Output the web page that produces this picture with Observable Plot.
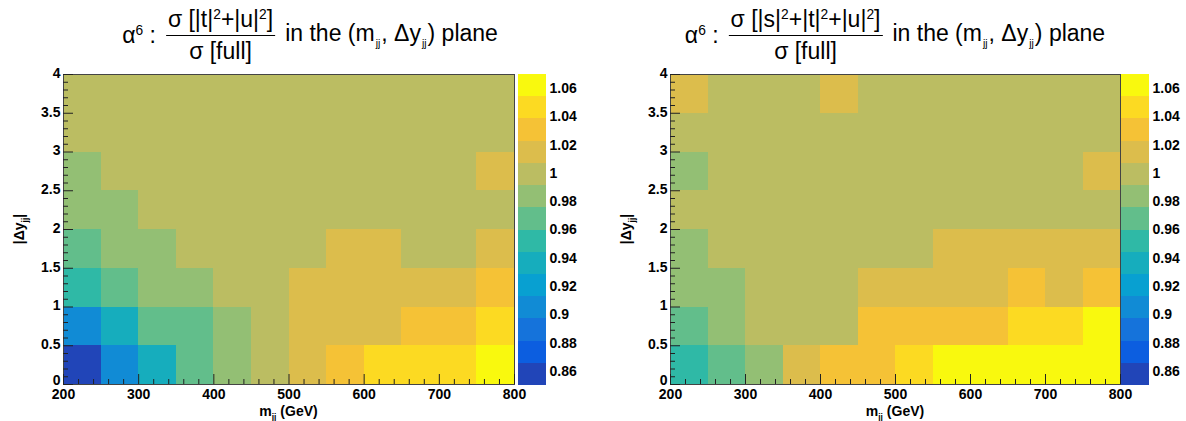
<!DOCTYPE html>
<html>
<head>
<meta charset="utf-8">
<script src="https://cdn.jsdelivr.net/npm/d3@7"></script>
<script src="https://cdn.jsdelivr.net/npm/@observablehq/plot@0.6"></script>
<style>
  html, body { margin: 0; padding: 0; background: #fff; }
  #root { position: relative; width: 1186px; height: 421px; overflow: hidden; font-family: "Liberation Sans", Arial, sans-serif; }
  .abs { position: absolute; }
  .title { position: absolute; top: 8px; font-size: 23px; display: flex; align-items: center; white-space: nowrap; transform: translateX(-50%); color: #000; line-height: 1; }
  .frac { display: inline-flex; flex-direction: column; align-items: center; margin: 0 10px 0 10px; }
  .num { padding: 0 2px 4px 2px; border-bottom: 1.5px solid #000; }
  .den { padding-top: 4px; }
  .title sup { font-size: 0.6em; vertical-align: 0.55em; }
  .title .ssub { font-size: 0.45em; vertical-align: -0.6em; margin: 0 1px; }
  .xt { position: absolute; font-weight: bold; font-size: 14px; line-height: 1; white-space: nowrap; transform: translateX(-50%); }
  .xt .ssub, .yt .ssub { font-size: 0.6em; vertical-align: -0.45em; }
  .yt { position: absolute; font-weight: bold; font-size: 14px; line-height: 1; white-space: nowrap; transform: translate(-50%, -50%) rotate(-90deg); }
</style>
</head>
<body>
<div id="root"></div>
<script>
// ---- data ----
const xEdges = [200, 250, 300, 350, 400, 450, 500, 550, 600, 650, 700, 750, 800];
const yEdges = [0, 0.5, 1, 1.5, 2, 2.5, 3, 3.5, 4];
const xTicks = [200, 300, 400, 500, 600, 700, 800];
const yTicks = [0, 0.5, 1, 1.5, 2, 2.5, 3, 3.5, 4];
const zTicks = [0.86, 0.88, 0.9, 0.92, 0.94, 0.96, 0.98, 1, 1.02, 1.04, 1.06];
const zRange = [0.85, 1.07];

// rows from |dy| = 0-0.5 (first) up to 3.5-4 (last), columns m_jj 200..800
const ratioTU = [
  [0.858, 0.905, 0.937, 0.968, 0.984, 0.999, 1.015, 1.031, 1.046, 1.046, 1.046, 1.062],
  [0.905, 0.937, 0.968, 0.968, 0.984, 0.999, 1.015, 1.015, 1.015, 1.031, 1.031, 1.046],
  [0.952, 0.968, 0.984, 0.984, 0.999, 0.999, 1.015, 1.015, 1.015, 1.015, 1.015, 1.031],
  [0.968, 0.984, 0.984, 0.999, 0.999, 0.999, 0.999, 1.015, 1.015, 0.999, 0.999, 1.015],
  [0.984, 0.984, 0.999, 0.999, 0.999, 0.999, 0.999, 0.999, 0.999, 0.999, 0.999, 0.999],
  [0.984, 0.999, 0.999, 0.999, 0.999, 0.999, 0.999, 0.999, 0.999, 0.999, 0.999, 1.015],
  [0.999, 0.999, 0.999, 0.999, 0.999, 0.999, 0.999, 0.999, 0.999, 0.999, 0.999, 0.999],
  [0.999, 0.999, 0.999, 0.999, 0.999, 0.999, 0.999, 0.999, 0.999, 0.999, 0.999, 0.999]
];
const ratioSTU = [
  [0.952, 0.968, 0.984, 1.015, 1.031, 1.031, 1.046, 1.062, 1.062, 1.062, 1.062, 1.062],
  [0.968, 0.984, 0.999, 0.999, 0.999, 1.031, 1.031, 1.031, 1.031, 1.046, 1.046, 1.062],
  [0.984, 0.984, 0.999, 0.999, 0.999, 1.015, 1.015, 1.015, 1.015, 1.031, 1.015, 1.031],
  [0.984, 0.999, 0.999, 0.999, 0.999, 0.999, 0.999, 1.015, 1.015, 1.015, 1.015, 1.015],
  [0.999, 0.999, 0.999, 0.999, 0.999, 0.999, 0.999, 0.999, 0.999, 0.999, 0.999, 0.999],
  [0.984, 0.999, 0.999, 0.999, 0.999, 0.999, 0.999, 0.999, 0.999, 0.999, 0.999, 1.015],
  [0.999, 0.999, 0.999, 0.999, 0.999, 0.999, 0.999, 0.999, 0.999, 0.999, 0.999, 0.999],
  [1.015, 0.999, 0.999, 0.999, 1.015, 0.999, 0.999, 0.999, 0.999, 0.999, 0.999, 0.999]
];

// palette (14 discrete bands from 0.85 to 1.07)
const palette = ["#2145b8", "#0c5ee0", "#1573db", "#118bd5", "#08a0d1", "#16adbd", "#2fb9a6",
                 "#62be8b", "#93bf74", "#bbbd62", "#dcbd4c", "#f5c236", "#fcda22", "#f9f90e"];
const nBands = palette.length;
const bandEdges = d3.range(nBands + 1).map(k => zRange[0] + k * (zRange[1] - zRange[0]) / nBands);
const thresholds = bandEdges.slice(1, -1);

function cellsOf(grid) {
  const out = [];
  grid.forEach((row, j) => row.forEach((v, i) => out.push({
    x1: xEdges[i], x2: xEdges[i + 1], y1: yEdges[j], y2: yEdges[j + 1], v
  })));
  return out;
}

const root = document.getElementById("root");
const FONT = "'Liberation Sans', Arial, sans-serif";

function panel(grid, left, mL, plotW, legendLeft, titleHTML, titleCenter) {
  const W = mL + plotW + 40, H = 361, mT = 14, mB = 37;
  const plotH = H - mT - mB;
  const xMinor = d3.range(200, 801, 20).filter(d => d % 100 !== 0);
  const yMinor = d3.range(0, 4.001, 0.1).map(d => +d.toFixed(1)).filter(d => Math.abs(d * 2 - Math.round(d * 2)) > 1e-6);
  const chart = Plot.plot({
    width: W, height: H,
    marginLeft: mL, marginRight: W - mL - plotW, marginTop: mT, marginBottom: mB,
    style: { fontFamily: FONT, fontSize: "14px", fontWeight: "bold", background: "transparent", overflow: "visible" },
    x: { domain: [200, 800] },
    y: { domain: [0, 4] },
    color: { type: "threshold", domain: thresholds, range: palette },
    marks: [
      Plot.rect(cellsOf(grid), { x1: "x1", x2: "x2", y1: "y1", y2: "y2", fill: "v", shapeRendering: "crispEdges" }),
      Plot.frame({ stroke: "#444", strokeWidth: 1 }),
      Plot.tickX(xTicks, { x: d => d, stroke: "#222", insetTop: plotH - 10 }),
      Plot.tickX(xMinor, { x: d => d, stroke: "#222", insetTop: plotH - 5 }),
      Plot.tickY(yTicks, { y: d => d, stroke: "#222", insetRight: plotW - 10 }),
      Plot.tickY(yMinor, { y: d => d, stroke: "#222", insetRight: plotW - 5 }),
      Plot.axisX({ ticks: xTicks, tickSize: 0, tickPadding: 5, tickFormat: d => String(d), fill: "#000", label: null }),
      Plot.axisY({ ticks: yTicks.filter(d => d !== 0), tickSize: 0, tickPadding: 3, dy: -1, tickFormat: d => String(d), fill: "#000", label: null }),
      Plot.axisY({ ticks: [yTicks[0]], tickSize: 0, tickPadding: 3, dy: -4, tickFormat: d => String(d), fill: "#000", label: null })
    ]
  });
  chart.classList.add("abs");
  chart.style.left = left + "px";
  chart.style.top = "60px";
  root.appendChild(chart);

  const bands = d3.range(nBands).map(k => ({ y1: bandEdges[k], y2: bandEdges[k + 1], v: (bandEdges[k] + bandEdges[k + 1]) / 2 }));
  const legend = Plot.plot({
    width: 74, height: 311,
    marginLeft: 0, marginRight: 46, marginTop: 0, marginBottom: 0,
    style: { fontFamily: FONT, fontSize: "14px", fontWeight: "bold", background: "transparent", overflow: "visible" },
    x: { domain: [0, 1], axis: null },
    y: { domain: zRange },
    color: { type: "threshold", domain: thresholds, range: palette },
    marks: [
      Plot.rect(bands, { x1: 0, x2: 1, y1: "y1", y2: "y2", fill: "v", shapeRendering: "crispEdges" }),
      Plot.axisY({ anchor: "right", ticks: zTicks, tickSize: 0, tickPadding: 3, tickFormat: d => String(+d.toFixed(2)), fill: "#000", label: null })
    ]
  });
  legend.classList.add("abs");
  legend.style.left = legendLeft + "px";
  legend.style.top = "74px";
  root.appendChild(legend);

  const t = document.createElement("div");
  t.className = "title";
  t.style.left = titleCenter + "px";
  t.innerHTML = titleHTML;
  root.appendChild(t);

  const xt = document.createElement("div");
  xt.className = "xt";
  xt.style.left = (left + mL + plotW / 2) + "px";
  xt.style.top = "404px";
  xt.innerHTML = 'm<span class="ssub">jj</span> (GeV)';
  root.appendChild(xt);

  const yt = document.createElement("div");
  yt.className = "yt";
  yt.style.left = (left + mL - 42) + "px";
  yt.style.top = "229px";
  yt.innerHTML = '|&Delta;y<span class="ssub">jj</span>|';
  root.appendChild(yt);
}

const tail = '<span>in the (m<span class="ssub">jj</span>, &Delta;y<span class="ssub">jj</span>) plane</span>';
panel(ratioTU, 0, 63, 451, 518,
  '<span>&alpha;<sup>6</sup> :</span><span class="frac"><span class="num">&sigma; [|t|<sup>2</sup>+|u|<sup>2</sup>]</span><span class="den">&sigma; [full]</span></span>' + tail,
  310);
panel(ratioSTU, 593, 77, 450, 1121,
  '<span>&alpha;<sup>6</sup> :</span><span class="frac"><span class="num">&sigma; [|s|<sup>2</sup>+|t|<sup>2</sup>+|u|<sup>2</sup>]</span><span class="den">&sigma; [full]</span></span>' + tail,
  895);
</script>
</body>
</html>
